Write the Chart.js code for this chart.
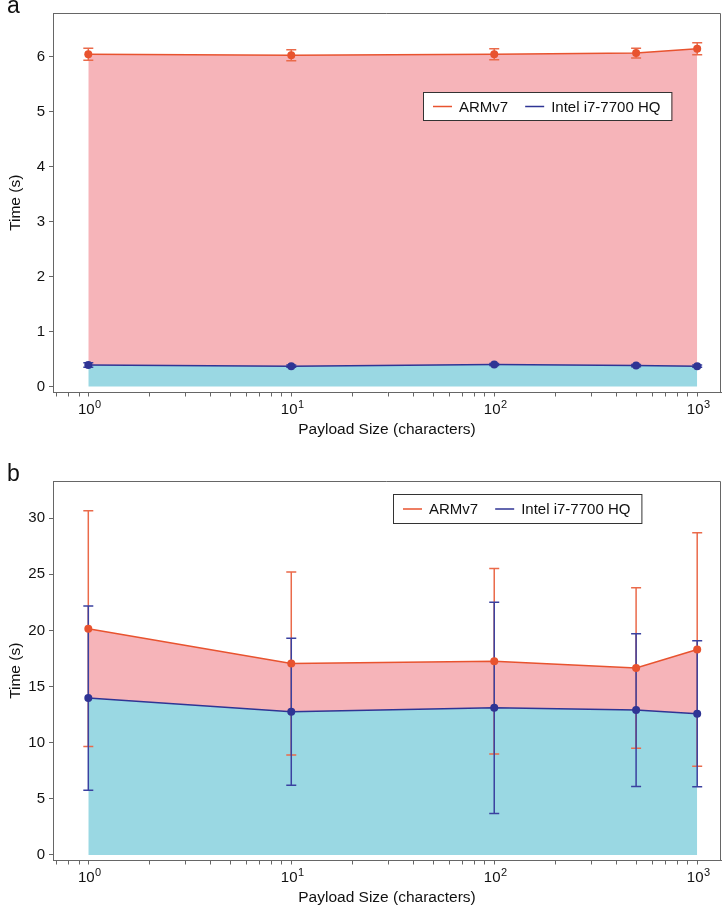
<!DOCTYPE html>
<html lang="en">
<head>
<meta charset="UTF-8">
<title>ARMv7 vs Intel i7-7700 HQ</title>
<script src="https://cdn.jsdelivr.net/npm/chart.js@4.4.0/dist/chart.umd.min.js"></script>
<style>
  body { margin: 0; background: #fff; }
  .panel { position: absolute; left: 0; width: 725px; height: 440px; }
  .panel canvas { display: block; }
  .tag { position: absolute; left: 7px; top: -8px; font: 23px "Liberation Sans", Arial, sans-serif; color: #111; }
</style>
</head>
<body>
<div class="panel" style="top:0"><canvas id="chartA" width="725" height="440"></canvas><span class="tag">a</span></div>
<div class="panel" style="top:468px"><canvas id="chartB" width="725" height="440"></canvas><span class="tag">b</span></div>
<script>
// data
const seriesNames = ["ARMv7", "Intel i7-7700 HQ"];
const payloadSizes = [1, 10, 100, 500, 1000];

// panel a
const armA = [6.05, 6.03, 6.05, 6.07, 6.15];
const armErrA = [0.11, 0.10, 0.10, 0.09, 0.11];
const intelA = [0.39, 0.37, 0.40, 0.38, 0.37];
const intelErrA = [0.04, 0.02, 0.02, 0.02, 0.02];

// panel b
const armB = [20.15, 17.05, 17.25, 16.65, 18.3];
const armErrB = [10.5, 8.15, 8.25, 7.15, 10.4];
const intelB = [13.97, 12.75, 13.1, 12.9, 12.57];
const intelErrB = [8.2, 6.55, 9.4, 6.8, 6.5];

const yTicksA = [0, 1, 2, 3, 4, 5, 6];
const yTicksB = [0, 5, 10, 15, 20, 25, 30];
const xMajorTicks = [1, 10, 100, 1000];
const xTickBase = "10";
const xTickExponents = ["0", "1", "2", "3"];
const xMinorTicks = [0.7, 0.8, 0.9,
  2, 3, 4, 5, 6, 7, 8, 9,
  20, 30, 40, 50, 60, 70, 80, 90,
  200, 300, 400, 500, 600, 700, 800, 900];

const RED = "#e8532f", RED_ERR = "#ea6a4a", PINK = "#f6b4b9";
const BLUE = "#2f3494", BLUE_ERR = "#3a41a0", CYAN = "#9ad8e3";
const FONT = "'Liberation Sans', Arial, Helvetica, sans-serif";
const AXIS = "#666";

Chart.defaults.font.family = FONT;
Chart.defaults.color = "#111";

const errorBars = {
  id: "errorBars",
  beforeDatasetsDraw(chart, args, opts) {
    const ctx = chart.ctx, xs = chart.scales.x, ys = chart.scales.y;
    ctx.save();
    ctx.lineWidth = 1.5;
    opts.errors.forEach((errs, di) => {
      ctx.strokeStyle = opts.colors[di];
      chart.data.datasets[di].data.forEach((p, i) => {
        const px = xs.getPixelForValue(p.x);
        const top = ys.getPixelForValue(p.y + errs[i]);
        const bot = ys.getPixelForValue(p.y - errs[i]);
        ctx.beginPath();
        ctx.moveTo(px, top); ctx.lineTo(px, bot);
        ctx.moveTo(px - 5, top); ctx.lineTo(px + 5, top);
        ctx.moveTo(px - 5, bot); ctx.lineTo(px + 5, bot);
        ctx.stroke();
      });
    });
    ctx.restore();
  }
};

// top and right sides of the box, plus 10^n labels with a real superscript
const frame = {
  id: "frame",
  afterDraw(chart) {
    const {left, top, right, bottom} = chart.chartArea;
    const ctx = chart.ctx, xs = chart.scales.x;
    ctx.save();
    ctx.strokeStyle = AXIS;
    ctx.lineWidth = 1;
    ctx.beginPath();
    ctx.moveTo(left, top + 0.5);
    ctx.lineTo(right - 0.5, top + 0.5);
    ctx.lineTo(right - 0.5, bottom);
    ctx.stroke();

    ctx.fillStyle = "#111";
    ctx.textBaseline = "alphabetic";
    const baseY = xs.top + 21;
    xMajorTicks.forEach((v, i) => {
      const px = xs.getPixelForValue(v);
      ctx.font = "15px " + FONT;
      const wb = ctx.measureText(xTickBase).width;
      ctx.font = "11px " + FONT;
      const we = ctx.measureText(xTickExponents[i]).width;
      const x0 = px - (wb + we) / 2 + 1;
      ctx.font = "15px " + FONT;
      ctx.fillText(xTickBase, x0, baseY);
      ctx.font = "11px " + FONT;
      ctx.fillText(xTickExponents[i], x0 + wb + 0.5, baseY - 6);
    });
    ctx.restore();
  }
};

const boxLegend = {
  id: "boxLegend",
  afterDraw(chart, args, opts) {
    const ctx = chart.ctx;
    ctx.save();
    ctx.font = "15px " + FONT;
    const sets = chart.data.datasets;
    const w1 = ctx.measureText(sets[0].label).width;
    const w2 = ctx.measureText(sets[1].label).width;
    const w = 10 + 19 + 7 + w1 + 17 + 18 + 7 + w2 + 12;
    const x = opts.x, y = opts.y, h = opts.h;
    ctx.fillStyle = "#fff";
    ctx.fillRect(x, y, w, h);
    ctx.strokeStyle = "#333";
    ctx.lineWidth = 1;
    ctx.strokeRect(x + 0.5, y + 0.5, w, h);
    const cy = y + h / 2 + 0.5;
    let cx = x + 10;
    sets.forEach((ds, i) => {
      ctx.strokeStyle = ds.borderColor;
      ctx.lineWidth = 1.5;
      ctx.beginPath();
      ctx.moveTo(cx, cy); ctx.lineTo(cx + 19, cy);
      ctx.stroke();
      cx += 19 + 7;
      ctx.fillStyle = "#111";
      ctx.textBaseline = "middle";
      ctx.fillText(ds.label, cx, cy + 1);
      cx += (i === 0 ? w1 : w2) + 17;
    });
    ctx.restore();
  }
};

function makeChart(id, arm, armErr, intel, intelErr, yMin, yMax, yTicks, legendPos) {
  const ctx = document.getElementById(id).getContext("2d");
  return new Chart(ctx, {
    type: "line",
    data: {
      datasets: [
        {
          label: seriesNames[0],
          data: payloadSizes.map((x, i) => ({x: x, y: arm[i]})),
          borderColor: RED,
          backgroundColor: PINK,
          fill: "+1",
          borderWidth: 1.5,
          pointRadius: 4,
          pointBackgroundColor: RED,
          pointBorderWidth: 0,
          tension: 0
        },
        {
          label: seriesNames[1],
          data: payloadSizes.map((x, i) => ({x: x, y: intel[i]})),
          borderColor: BLUE,
          backgroundColor: CYAN,
          fill: "origin",
          borderWidth: 1.5,
          pointRadius: 4,
          pointBackgroundColor: BLUE,
          pointBorderWidth: 0,
          tension: 0
        }
      ]
    },
    options: {
      responsive: false,
      animation: false,
      layout: { padding: { left: 6, top: 13, right: 3, bottom: 1 } },
      plugins: {
        legend: { display: false },
        tooltip: { enabled: false },
        filler: { drawTime: "beforeDatasetsDraw" },
        errorBars: { errors: [armErr, intelErr], colors: [RED_ERR, BLUE_ERR] },
        boxLegend: legendPos
      },
      scales: {
        x: {
          type: "logarithmic",
          min: 0.67,
          max: 1310,
          afterBuildTicks: s => {
            s.ticks = xMinorTicks.concat(xMajorTicks).sort((a, b) => a - b).map(v => ({value: v}));
          },
          afterFit: s => { s.height = 46.5; },
          ticks: { display: false, autoSkip: false, maxRotation: 0 },
          grid: { drawOnChartArea: false, drawTicks: true, tickLength: 4, color: AXIS },
          border: { color: AXIS, width: 1 },
          title: { display: true, text: "Payload Size (characters)", font: { size: 15.5 }, padding: 0 }
        },
        y: {
          type: "linear",
          min: yMin,
          max: yMax,
          afterBuildTicks: s => { s.ticks = yTicks.map(v => ({value: v})); },
          afterFit: s => { s.width = 47; },
          ticks: { padding: 4, font: { size: 15 } },
          grid: { drawOnChartArea: false, drawTicks: true, tickLength: 4, color: AXIS },
          border: { color: AXIS, width: 1 },
          title: { display: true, text: "Time (s)", font: { size: 15.5 }, padding: 0 }
        }
      }
    },
    plugins: [errorBars, frame, boxLegend]
  });
}

makeChart("chartA", armA, armErrA, intelA, intelErrA, -0.11, 6.8, yTicksA, {x: 423, y: 92, h: 28});
makeChart("chartB", armB, armErrB, intelB, intelErrB, -0.49, 33.3, yTicksB, {x: 393, y: 26, h: 29});
</script>
</body>
</html>
